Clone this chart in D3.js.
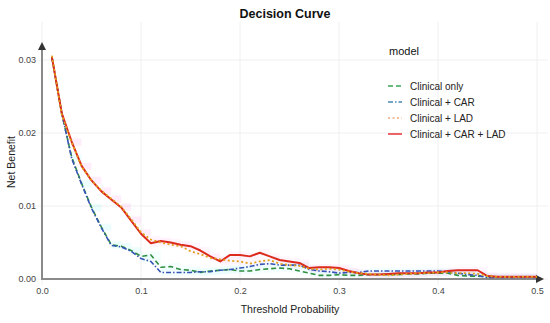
<!DOCTYPE html>
<html>
<head>
<meta charset="utf-8">
<script src="https://cdn.jsdelivr.net/npm/d3@7"></script>
<style>
  body { margin: 0; background: #fff; }
  svg { font-family: "Liberation Sans", Arial, sans-serif; }
</style>
</head>
<body>
<svg id="chart" width="550" height="323"></svg>
<script>
// threshold probabilities 0.01 .. 0.50
var thresholds = [0.01,0.02,0.03,0.04,0.05,0.06,0.07,0.08,0.09,0.10,
  0.11,0.12,0.13,0.14,0.15,0.16,0.17,0.18,0.19,0.20,
  0.21,0.22,0.23,0.24,0.25,0.26,0.27,0.28,0.29,0.30,
  0.31,0.32,0.33,0.34,0.35,0.36,0.37,0.38,0.39,0.40,
  0.41,0.42,0.43,0.44,0.45,0.46,0.47,0.48,0.49,0.50];

var clinicalOnly = [0.0304,0.0226,0.0167,0.0131,0.0098,0.0071,0.0047,0.0045,0.0039,0.0031,
  0.0033,0.0016,0.0017,0.0013,0.0012,0.0009,0.0011,0.0012,0.0013,0.0011,
  0.0011,0.0013,0.0014,0.0015,0.0014,0.0011,0.0008,0.0005,0.0005,0.0006,
  0.0005,0.0005,0.0006,0.0006,0.0006,0.0006,0.0007,0.0007,0.0008,0.0008,
  0.0008,0.0005,0.0004,0.0004,0.0003,0.0003,0.0003,0.0003,0.0003,0.0003];

var clinicalCar = [0.0304,0.0227,0.0165,0.0130,0.0097,0.0070,0.0046,0.0044,0.0038,0.0028,
  0.0024,0.0009,0.0009,0.0009,0.0009,0.0010,0.0010,0.0012,0.0013,0.0015,
  0.0017,0.0020,0.0021,0.0019,0.0019,0.0019,0.0013,0.0011,0.0010,0.0008,
  0.0009,0.0009,0.0011,0.0011,0.0011,0.0011,0.0011,0.0011,0.0011,0.0011,
  0.0010,0.0008,0.0006,0.0005,0.0002,0.0002,0.0002,0.0002,0.0002,0.0002];

var clinicalLad = [0.0306,0.0225,0.0187,0.0154,0.0135,0.0121,0.0110,0.0099,0.0082,0.0064,
  0.0054,0.0050,0.0047,0.0045,0.0038,0.0034,0.0029,0.0027,0.0025,0.0024,
  0.0021,0.0024,0.0026,0.0021,0.0019,0.0018,0.0014,0.0013,0.0014,0.0013,
  0.0010,0.0008,0.0007,0.0006,0.0005,0.0006,0.0007,0.0008,0.0008,0.0009,
  0.0009,0.0008,0.0008,0.0007,0.0004,0.0003,0.0003,0.0003,0.0003,0.0003];

var clinicalCarLad = [0.0304,0.0227,0.0188,0.0155,0.0135,0.0120,0.0109,0.0098,0.0080,0.0062,
  0.0049,0.0052,0.0050,0.0047,0.0045,0.0039,0.0031,0.0024,0.0033,0.0033,
  0.0031,0.0036,0.0031,0.0026,0.0024,0.0022,0.0015,0.0016,0.0016,0.0015,
  0.0011,0.0008,0.0006,0.0006,0.0007,0.0008,0.0008,0.0008,0.0009,0.0009,
  0.0011,0.0012,0.0012,0.0012,0.0004,0.0003,0.0003,0.0003,0.0003,0.0003];

var xTicks = [0, 0.1, 0.2, 0.3, 0.4, 0.5];
var yTicks = [0, 0.01, 0.02, 0.03];

var models = [
  {name: "Clinical only",          values: clinicalOnly,   color: "#2f8f3f", dash: "5,3",      width: 1.6, band: "rgba(0,220,230,0.04)"},
  {name: "Clinical + CAR",         values: clinicalCar,    color: "#3552b5", dash: "5,2,1.5,2", width: 1.6, band: "rgba(0,220,230,0.04)"},
  {name: "Clinical + CAR + LAD",   values: clinicalCarLad, color: "#dc2a1c", dash: null,       width: 2,   band: "rgba(255,0,200,0.035)"},
  {name: "Clinical + LAD",         values: clinicalLad,    color: "#e0a01a", dash: "2,2.5",    width: 1.8, band: "rgba(255,0,200,0.035)"}
];
var legendOrder = ["Clinical only", "Clinical + CAR", "Clinical + LAD", "Clinical + CAR + LAD"];
var legendColors = {"Clinical only": "#3aa556", "Clinical + CAR": "#4a86b0", "Clinical + LAD": "#f0a878", "Clinical + CAR + LAD": "#e8303a"};

var svg = d3.select("#chart");

var x = d3.scaleLinear().domain([0, 0.5]).range([42, 537]);
var y = d3.scaleLinear().domain([0, 0.03]).range([279, 60]);

// grid
var grid = svg.append("g");
grid.selectAll("line.v").data(xTicks).enter().append("line")
  .attr("x1", function(d){ return x(d); }).attr("x2", function(d){ return x(d); })
  .attr("y1", 22).attr("y2", 285)
  .attr("stroke", "#ececec").attr("stroke-width", 0.8);
grid.selectAll("line.h").data(yTicks).enter().append("line")
  .attr("x1", 30).attr("x2", 548)
  .attr("y1", function(d){ return y(d); }).attr("y2", function(d){ return y(d); })
  .attr("stroke", "#ececec").attr("stroke-width", 0.8);

// faint ribbons
var band = d3.area()
  .curve(d3.curveStepAfter)
  .x(function(d, i){ return x(thresholds[i + 2]); })
  .y0(function(d){ return y(Math.max(0, d - 0.0005)); })
  .y1(function(d){ return y(d + 0.0005); });
models.forEach(function(m){
  svg.append("path").datum(m.values.slice(2))
    .attr("d", band)
    .attr("fill", m.band);
});

// axes
var xAxis = d3.axisBottom(x).tickValues(xTicks).tickFormat(d3.format(".1f")).tickSize(0).tickPadding(9);
var gx = svg.append("g").attr("transform", "translate(0,279)").call(xAxis);
gx.select(".domain").remove();
gx.selectAll("text").attr("fill", "#444").style("font-size", "9px");

var yAxis = d3.axisLeft(y).tickValues(yTicks).tickFormat(d3.format(".2f")).tickSize(0).tickPadding(6);
var gy = svg.append("g").attr("transform", "translate(42,0)").call(yAxis);
gy.select(".domain").remove();
gy.selectAll("text").attr("fill", "#444").style("font-size", "9px");

// axis lines with arrows
var defs = svg.append("defs");
defs.append("marker").attr("id", "arrow").attr("viewBox", "0 0 10 10")
  .attr("refX", 5).attr("refY", 5).attr("markerWidth", 4).attr("markerHeight", 4)
  .attr("orient", "auto")
  .append("path").attr("d", "M0,0L10,5L0,10z").attr("fill", "#333");

svg.append("line").attr("x1", 42).attr("x2", 42).attr("y1", 280).attr("y2", 46)
  .attr("stroke", "#8a8a8a").attr("stroke-width", 2).attr("marker-end", "url(#arrow)");
svg.append("line").attr("x1", 41).attr("x2", 540).attr("y1", 279).attr("y2", 279)
  .attr("stroke", "#8a8a8a").attr("stroke-width", 2).attr("marker-end", "url(#arrow)");

// curves
var line = d3.line()
  .x(function(d, i){ return x(thresholds[i]); })
  .y(function(d){ return y(d); });

models.forEach(function(m){
  svg.append("path").datum(m.values)
    .attr("d", line)
    .attr("fill", "none")
    .attr("stroke", m.color)
    .attr("stroke-width", m.width)
    .attr("stroke-dasharray", m.dash)
    .attr("stroke-linejoin", "round");
});

// titles
svg.append("text").attr("x", 285).attr("y", 18).attr("text-anchor", "middle")
  .style("font-size", "12.5px").style("font-weight", "bold").attr("fill", "#111")
  .text("Decision Curve");
svg.append("text").attr("x", 290).attr("y", 313).attr("text-anchor", "middle")
  .style("font-size", "10.5px").attr("fill", "#222")
  .text("Threshold Probability");
svg.append("text").attr("transform", "translate(15,162) rotate(-90)").attr("text-anchor", "middle")
  .style("font-size", "10.5px").attr("fill", "#222")
  .text("Net Benefit");

// legend
var legend = svg.append("g").attr("transform", "translate(388,0)");
legend.append("text").attr("x", 1).attr("y", 55).style("font-size", "11px").attr("fill", "#111").text("model");
legendOrder.forEach(function(name, i){
  var m = models.filter(function(d){ return d.name === name; })[0];
  var ly = 86 + i * 16;
  legend.append("line").attr("x1", 0).attr("x2", 14).attr("y1", ly).attr("y2", ly)
    .attr("stroke", legendColors[name]).attr("stroke-width", 1.5)
    .attr("stroke-dasharray", m.dash);
  legend.append("text").attr("x", 22).attr("y", ly + 3.5).style("font-size", "10px")
    .attr("fill", "#222").text(name);
});
</script>
</body>
</html>
